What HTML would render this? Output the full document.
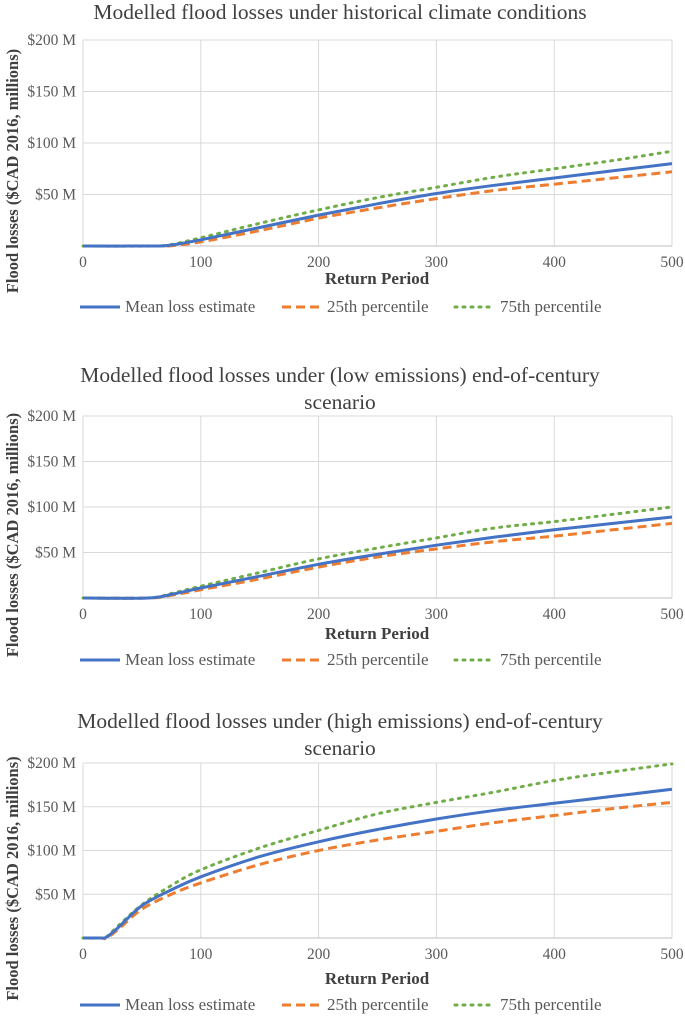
<!DOCTYPE html>
<html><head><meta charset="utf-8"><style>
body{margin:0;background:#fff}
svg{display:block;font-family:"Liberation Serif",serif}
</style></head><body>
<svg id="c" width="685" height="1016"></svg>
<script>
const xTicks=[0,100,200,300,400,500];
const yTicks=[50,100,150,200];
const yTickLabels=["$50 M","$100 M","$150 M","$200 M"];
const titles=[["Modelled flood losses under historical climate conditions"],["Modelled flood losses under (low emissions) end-of-century","scenario"],["Modelled flood losses under (high emissions) end-of-century","scenario"]];
const p1x=[0,60,75,100,150,200,250,300,350,400,450,500];
const p1mean=[0,0,1,6,18,30,41,51,59,66,73,80];
const p1p25=[0,0,0.3,4,15,27,37,46,54,60,66,72];
const p1p75=[0,0,1.5,8,22,35,47,57,67,75,83,92];
const p2x=[0,55,75,100,150,200,250,300,350,400,450,500];
const p2mean=[0,0,4,11,24,37,48,58,67,75,82,89];
const p2p25=[0,0,3,9,21,34,45,54,62,68,75,82];
const p2p75=[0,0,5,13,28,43,55,66,77,84,92,100];
const p3x=[0,15,20,30,50,75,100,150,200,250,300,350,400,450,500];
const p3mean=[0,0,1,12,37,55,70,93,110,124,136,146,154,162,170];
const p3p25=[0,0,0,10,33,50,63,84,100,112,122,132,140,148,155];
const p3p75=[0,0,1.5,14,38,60,78,103,123,142,155,167,180,190,199];
const panels=[{top:40,bot:246,ty:[12],xt:278,lg:307,x:p1x,s:[p1mean,p1p25,p1p75]},
{top:416,bot:598,ty:[375,402],xt:633,lg:660,x:p2x,s:[p2mean,p2p25,p2p75]},
{top:763,bot:938,ty:[721,748],xt:978,lg:1005,x:p3x,s:[p3mean,p3p25,p3p75]}];
const NS="http://www.w3.org/2000/svg",svg=document.getElementById('c');
function mk(t,a,p){const e=document.createElementNS(NS,t);for(const k in a)e.setAttribute(k,a[k]);(p||svg).appendChild(e);return e;}
const X0=83,X1=672;
const sx=v=>X0+(X1-X0)*v/500;
const styles=[{stroke:"#4472c4",w:3,d:""},{stroke:"#ed7d31",w:3,d:"9,5"},{stroke:"#70ad47",w:3,d:"2,6"}];
const legNames=["Mean loss estimate","25th percentile","75th percentile"];
const legX=[80,282,455];
function smooth(pts){let d="M"+pts[0][0]+","+pts[0][1];for(let i=0;i<pts.length-1;i++){const p0=pts[Math.max(0,i-1)],p1=pts[i],p2=pts[i+1],p3=pts[Math.min(pts.length-1,i+2)];const c1=[p1[0]+(p2[0]-p0[0])/6,p1[1]+(p2[1]-p0[1])/6],c2=[p2[0]-(p3[0]-p1[0])/6,p2[1]-(p3[1]-p1[1])/6];d+=" C"+c1+" "+c2+" "+p2;}return d;}
panels.forEach((P,pi)=>{
  const g=mk('g',{});
  
  
  const sy=v=>P.bot-(P.bot-P.top)*v/200;
  titles[pi].forEach((t,i)=>{const e=mk('text',{x:340,y:P.ty[i]+7,'text-anchor':'middle','font-size':21.5,fill:'#404040'},g);e.textContent=t;
    });
  yTicks.forEach((v,i)=>{const l=mk('line',{x1:X0,x2:X1,y1:sy(v),y2:sy(v),stroke:'#d9d9d9','stroke-width':1},g);
    
    const t=mk('text',{x:76,y:sy(v)+5,'text-anchor':'end','font-size':15.5,fill:'#595959'},g);t.textContent=yTickLabels[i];
    });
  xTicks.forEach(v=>{if(v>0){const l=mk('line',{x1:sx(v),x2:sx(v),y1:P.top,y2:P.bot,stroke:'#d9d9d9','stroke-width':1},g);
    }
    const t=mk('text',{x:sx(v),y:P.bot+21,'text-anchor':'middle','font-size':15.5,fill:'#595959'},g);t.textContent=v;
    });
  const ax=mk('line',{x1:X0,x2:X1,y1:P.bot,y2:P.bot,stroke:'#bfbfbf','stroke-width':1},g);
  
  const la=mk('line',{x1:X0,x2:X0,y1:P.top,y2:P.bot,stroke:'#d9d9d9','stroke-width':1},g);
  
  const xt=mk('text',{x:377,y:P.xt+6,'text-anchor':'middle','font-size':17,'font-weight':'bold',fill:'#404040'},g);xt.textContent="Return Period";
  
  const cy=(P.top+P.bot)/2+28;
  const yt=mk('text',{x:0,y:0,transform:`translate(18,${cy}) rotate(-90)`,'text-anchor':'middle','font-size':16.5,'font-weight':'bold',fill:'#404040'},g);yt.textContent="Flood losses ($CAD 2016, millions)";
  
  [2,1,0].forEach(si=>{const st=styles[si];const pts=P.x.map((x,i)=>[+sx(x).toFixed(1),+sy(P.s[si][i]).toFixed(1)]);
    const p=mk('path',{d:smooth(pts),fill:'none',stroke:st.stroke,'stroke-width':st.w,'stroke-dasharray':st.d,'stroke-linecap':si==2?'round':'butt'},g);
    });
  legNames.forEach((n,i)=>{const st=styles[i];
    const lg=mk('g',{},g);
    mk('line',{x1:legX[i],x2:legX[i]+40,y1:P.lg,y2:P.lg,stroke:st.stroke,'stroke-width':3,'stroke-dasharray':st.d,'stroke-linecap':i==2?'round':'butt'},lg);
    const t=mk('text',{x:legX[i]+45,y:P.lg+5,'font-size':17,fill:'#595959'},lg);t.textContent=n;});
});
</script>
</body></html>
